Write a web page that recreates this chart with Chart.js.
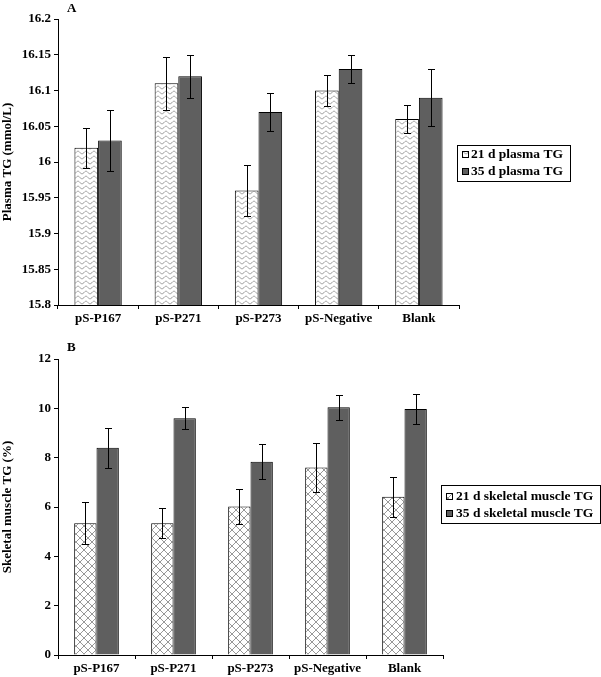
<!DOCTYPE html>
<html><head><meta charset="utf-8">
<script src="https://cdn.jsdelivr.net/npm/chart.js@4.4.0/dist/chart.umd.min.js"></script>
<style>
html,body{margin:0;padding:0;background:#fff;}
#wrap{position:relative;width:601px;height:677px;overflow:hidden;background:#fff;}
canvas{position:absolute;left:0;}
.lab{position:absolute;font:bold 13px "Liberation Serif","Times New Roman",serif;color:#000;line-height:15px;}
</style></head><body>
<div id="wrap">
<canvas id="c1" width="601" height="330" style="top:0"></canvas>
<canvas id="c2" width="601" height="347" style="top:330px"></canvas>
<div class="lab" style="left:67px;top:0px">A</div>
<div class="lab" style="left:67px;top:339px">B</div>
</div>
<script>
const categories = ['pS-P167','pS-P271','pS-P273','pS-Negative','Blank'];
const plasmaLabels = ['21 d plasma TG','35 d plasma TG'];
const plasma21 = [16.02,16.11,15.96,16.10,16.06];
const plasma21Err = [0.028,0.037,0.036,0.022,0.020];
const plasma35 = [16.03,16.12,16.07,16.13,16.09];
const plasma35Err = [0.043,0.030,0.027,0.020,0.040];
const muscleLabels = ['21 d skeletal muscle TG','35 d skeletal muscle TG'];
const muscle21 = [5.34,5.34,6.02,7.60,6.42];
const muscle21Err = [0.85,0.60,0.69,1.00,0.81];
const muscle35 = [8.40,9.60,7.83,10.04,9.97];
const muscle35Err = [0.80,0.45,0.71,0.50,0.61];
const plasmaRange = {min:15.8,max:16.2,step:0.05};
const muscleRange = {min:0,max:12,step:2};

const FAMILY = '"Liberation Serif","Times New Roman",serif';
const font13 = {family:FAMILY,size:13,weight:'bold'};
const DARK = '#5f5f5f';

function wavePattern(ctx){
  const c=document.createElement('canvas'); c.width=8; c.height=5;
  const g=c.getContext('2d'); g.fillStyle='#fff'; g.fillRect(0,0,8,5);
  g.strokeStyle='#8c8c8c'; g.lineWidth=0.9;
  g.beginPath();
  for(let x=0;x<=8.01;x+=0.5){const y=2.5+1.3*Math.sin(x/8*2*Math.PI); if(x===0)g.moveTo(x,y); else g.lineTo(x,y);}
  g.stroke();
  return ctx.createPattern(c,'repeat');
}
function crossPattern(ctx){
  const c=document.createElement('canvas'); c.width=8; c.height=8;
  const g=c.getContext('2d'); g.fillStyle='#fff'; g.fillRect(0,0,8,8);
  g.strokeStyle='#8c8c8c'; g.lineWidth=0.9;
  g.beginPath(); g.moveTo(0,0); g.lineTo(8,8); g.moveTo(8,0); g.lineTo(0,8); g.stroke();
  return ctx.createPattern(c,'repeat');
}

const errorBars = {
  id:'errorBars',
  afterDatasetsDraw(chart){
    const ctx=chart.ctx, ys=chart.scales.y;
    ctx.save(); ctx.strokeStyle='#000'; ctx.lineWidth=1;
    chart.data.datasets.forEach((ds,i)=>{
      const meta=chart.getDatasetMeta(i);
      meta.data.forEach((bar,j)=>{
        const v=ds.data[j], e=ds.errors[j];
        const x=Math.round(bar.x)+0.5;
        const y1=Math.round(ys.getPixelForValue(v+e))+0.5, y2=Math.round(ys.getPixelForValue(v-e))+0.5;
        ctx.beginPath();
        ctx.moveTo(x,y1); ctx.lineTo(x,y2);
        ctx.moveTo(x-3.5,y1); ctx.lineTo(x+3.5,y1);
        ctx.moveTo(x-3.5,y2); ctx.lineTo(x+3.5,y2);
        ctx.stroke();
      });
    });
    ctx.restore();
  }
};

const boxLegend = {
  id:'boxLegend',
  afterDraw(chart,args,o){
    const ctx=chart.ctx;
    ctx.save();
    ctx.fillStyle='#fff'; ctx.fillRect(o.x,o.y,o.w,o.h);
    ctx.strokeStyle='#000'; ctx.lineWidth=1; ctx.strokeRect(o.x+0.5,o.y+0.5,o.w,o.h);
    ctx.font='bold 13.5px '+FAMILY; ctx.textBaseline='middle'; ctx.textAlign='left';
    chart.data.datasets.forEach((ds,i)=>{
      const cy=Math.round(o.y+o.first+i*o.row);
      const sx=Math.round(o.x+o.sx);
      ctx.fillStyle=ds.backgroundColor; ctx.fillRect(sx,cy-3,7,7);
      ctx.strokeStyle='#000'; ctx.strokeRect(sx+0.5,cy-2.5,6,6);
      ctx.fillStyle='#000'; ctx.fillText(ds.label,o.x+o.tx,cy+1);
    });
    ctx.restore();
  }
};

function makeChart(id, labels, d21, e21, d35, e35, range, title, pat, catPct, legend, padTop, padRight, xH){
  const canvas=document.getElementById(id);
  const ctx=canvas.getContext('2d');
  return new Chart(ctx,{
    type:'bar',
    data:{labels:categories,datasets:[
      {label:labels[0],data:d21,errors:e21,backgroundColor:pat(ctx),borderColor:'#000',borderWidth:1,categoryPercentage:catPct,barPercentage:1},
      {label:labels[1],data:d35,errors:e35,backgroundColor:DARK,borderColor:'#000',borderWidth:1,categoryPercentage:catPct,barPercentage:1}
    ]},
    options:{
      responsive:false,maintainAspectRatio:false,animation:false,
      layout:{padding:{left:0,top:padTop,right:padRight,bottom:0}},
      plugins:{legend:{display:false},tooltip:{enabled:false},title:{display:false},boxLegend:legend},
      scales:{
        x:{grid:{display:true,drawOnChartArea:false,drawTicks:true,tickLength:4,color:'#000',offset:true},
           border:{display:true,color:'#000',width:1},
           ticks:{color:'#000',font:font13,padding:2,maxRotation:0,autoSkip:false},
           afterFit(s){s.height=xH;}},
        y:{min:range.min,max:range.max,
           ticks:{stepSize:range.step,color:'#000',font:font13,padding:3,callback:v=>String(parseFloat(Number(v).toFixed(2)))},
           grid:{drawOnChartArea:false,drawTicks:true,tickLength:4,color:'#000'},
           border:{display:true,color:'#000',width:1},
           title:{display:true,text:title,font:font13,color:'#000',padding:0},
           afterFit(s){s.width=58;}}
      }
    },
    plugins:[errorBars,boxLegend]
  });
}

makeChart('c1',plasmaLabels,plasma21,plasma21Err,plasma35,plasma35Err,plasmaRange,'Plasma TG (mmol/L)',wavePattern,0.59,
  {x:457,y:145,w:113,h:36,first:9,row:17,sx:5,tx:14},19,142,25);
makeChart('c2',muscleLabels,muscle21,muscle21Err,muscle35,muscle35Err,muscleRange,'Skeletal muscle TG (%)',crossPattern,0.58,
  {x:441,y:155,w:159,h:38,first:10.7,row:17,sx:5,tx:15},29,158,22);
</script>
</body></html>
